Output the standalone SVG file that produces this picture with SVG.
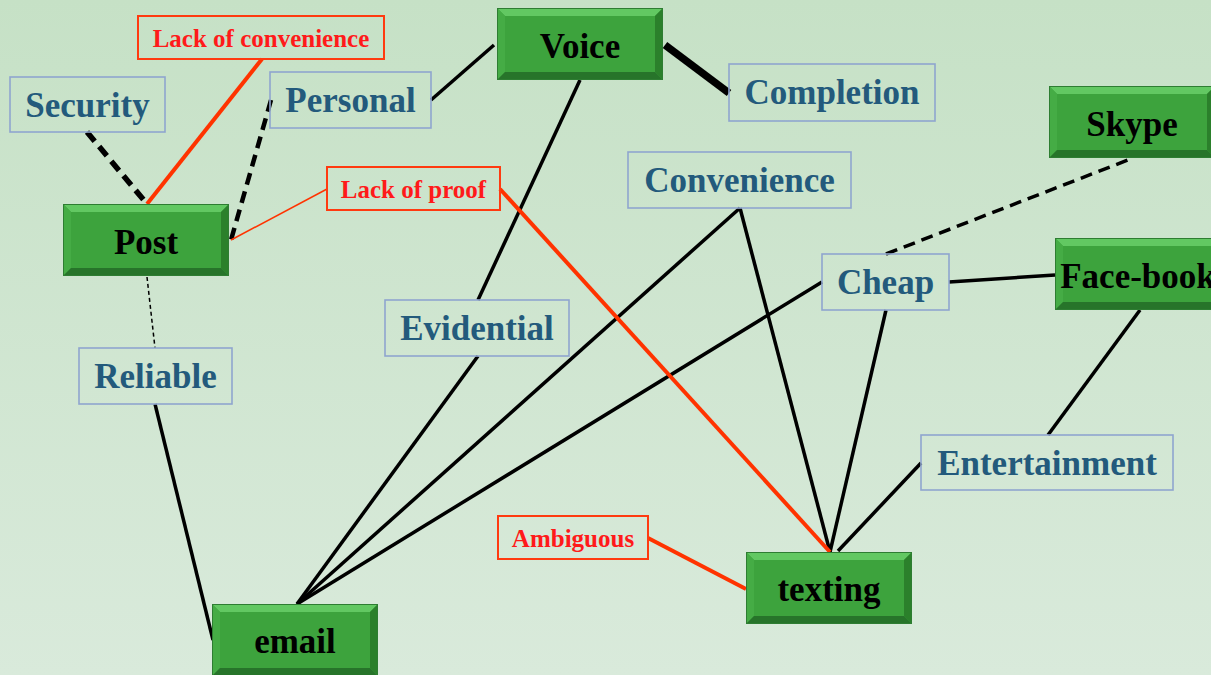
<svg xmlns="http://www.w3.org/2000/svg" xmlns:xlink="http://www.w3.org/1999/xlink" width="1211" height="675" viewBox="0 0 1211 675">
<style>
.gt{font-family:"Liberation Serif","Times New Roman",serif;font-weight:bold;font-size:35px;fill:#000;text-anchor:middle}
.bt{font-family:"Liberation Serif","Times New Roman",serif;font-weight:bold;font-size:35px;fill:#235a7c;text-anchor:middle}
.rt{font-family:"Liberation Serif","Times New Roman",serif;font-weight:bold;font-size:25px;fill:#ff1a1a;text-anchor:middle}
.bb{fill:none;stroke:#8fa5cf;stroke-width:1.6}
.rb{fill:none;stroke:#ff3a10;stroke-width:2}
.k{stroke:#000;fill:none;stroke-width:3.5;stroke-linecap:butt}
.r{stroke:#ff3300;fill:none;stroke-width:4}
.d{stroke-dasharray:12 7}
</style>
<defs>
<linearGradient id="bg" x1="0" y1="0" x2="0" y2="1">
<stop offset="0" stop-color="#c6e1c6"/>
<stop offset="1" stop-color="#d9eadb"/>
</linearGradient>
<g id="bevel">
<rect x="0" y="0" width="166" height="72" fill="#3da33d"/>
<polygon points="0,0 166,0 158,8 8,8" fill="#62c862"/>
<polygon points="0,0 8,8 8,64 0,72" fill="#45ac45"/>
<polygon points="166,0 166,72 158,64 158,8" fill="#2b802b"/>
<polygon points="0,72 8,64 158,64 166,72" fill="#27742a"/>
<rect x="0.5" y="0.5" width="165" height="71" fill="none" stroke="#2e7d32" stroke-width="1"/>
</g>
</defs>
<rect width="1211" height="675" fill="url(#bg)"/>
<g id="connectors">
<line class="k d" x1="87" y1="132" x2="147" y2="204" style="stroke-width:5.5"/>
<line class="r" x1="262" y1="59" x2="147" y2="204"/>
<line class="k d" x1="271" y1="100" x2="231" y2="240" style="stroke-width:4.5"/>
<line class="r" x1="327" y1="189" x2="231" y2="240" style="stroke-width:1.5"/>
<line class="k" x1="147" y1="277" x2="155" y2="348" style="stroke-width:1.5;stroke-dasharray:4 3"/>
<line class="k" x1="155" y1="404" x2="213" y2="640"/>
<line class="k" x1="431" y1="100" x2="494" y2="45"/>
<line class="k" x1="665" y1="45" x2="729" y2="93" style="stroke-width:7.5"/>
<line class="k" x1="580" y1="80" x2="478" y2="300"/>
<line class="k" x1="478" y1="356" x2="297" y2="604"/>
<line class="k" x1="740" y1="208" x2="297" y2="604"/>
<line class="k" x1="822" y1="282" x2="297" y2="604"/>
<line class="k" x1="740" y1="208" x2="830" y2="552"/>
<line class="k" x1="886" y1="310" x2="830" y2="552"/>
<line class="k d" x1="886" y1="254" x2="1133" y2="158"/>
<line class="k" x1="949" y1="282" x2="1055" y2="275"/>
<line class="k" x1="1140" y1="310" x2="1048" y2="435"/>
<line class="k" x1="921" y1="463" x2="838" y2="551"/>
<line class="r" x1="500" y1="189" x2="830" y2="552"/>
<line class="r" x1="648" y1="538" x2="746" y2="589"/>
</g>
<g id="voice"><use xlink:href="#bevel" x="497" y="8"/><text class="gt" x="580" y="58">Voice</text></g>
<g id="post"><use xlink:href="#bevel" x="63" y="204"/><text class="gt" x="146" y="254">Post</text></g>
<g id="skype"><use xlink:href="#bevel" x="1049" y="86"/><text class="gt" x="1132" y="136">Skype</text></g>
<g id="facebook"><use xlink:href="#bevel" x="1055" y="238"/><text class="gt" x="1138" y="288">Face-book</text></g>
<g id="texting"><use xlink:href="#bevel" x="746" y="552"/><text class="gt" x="829" y="601">texting</text></g>
<g id="email"><use xlink:href="#bevel" x="212" y="604"/><text class="gt" x="295" y="653">email</text></g>
<g id="security"><rect class="bb" x="10" y="77" width="155" height="55"/><text class="bt" x="87.5" y="117">Security</text></g>
<g id="personal"><rect class="bb" x="270" y="72" width="161" height="56"/><text class="bt" x="350.5" y="112">Personal</text></g>
<g id="completion"><rect class="bb" x="729" y="64" width="206" height="57"/><text class="bt" x="832" y="104">Completion</text></g>
<g id="convenience"><rect class="bb" x="628" y="152" width="223" height="56"/><text class="bt" x="739.5" y="192">Convenience</text></g>
<g id="cheap"><rect class="bb" x="822" y="254" width="127" height="56"/><text class="bt" x="885.5" y="294">Cheap</text></g>
<g id="evidential"><rect class="bb" x="385" y="300" width="184" height="56"/><text class="bt" x="477" y="340">Evidential</text></g>
<g id="reliable"><rect class="bb" x="79" y="348" width="153" height="56"/><text class="bt" x="155.5" y="388">Reliable</text></g>
<g id="entertainment"><rect class="bb" x="921" y="435" width="252" height="55"/><text class="bt" x="1047" y="475">Entertainment</text></g>
<g id="lack-convenience"><rect class="rb" x="138" y="16" width="246" height="43"/><text class="rt" x="261" y="47">Lack of convenience</text></g>
<g id="lack-proof"><rect class="rb" x="327" y="167" width="173" height="43"/><text class="rt" x="413.5" y="198">Lack of proof</text></g>
<g id="ambiguous"><rect class="rb" x="498" y="516" width="150" height="43"/><text class="rt" x="573" y="547">Ambiguous</text></g>
</svg>
